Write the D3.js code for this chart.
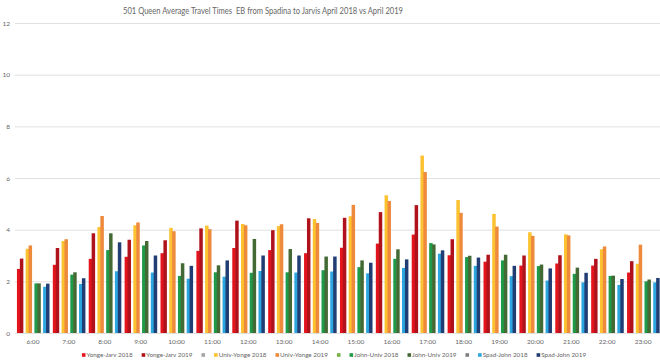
<!DOCTYPE html>
<html>
<head>
<meta charset="utf-8">
<script src="https://cdn.jsdelivr.net/npm/d3@7"></script>
<style>
  html, body { margin: 0; padding: 0; background: #fff; }
  svg { display: block; font-family: Lato, "Open Sans", sans-serif; }
</style>
</head>
<body>
<div id="chart"></div>
<script>
// Data (minutes)
const times = ['6:00', '7:00', '8:00', '9:00', '10:00', '11:00', '12:00', '13:00', '14:00',
    '15:00', '16:00', '17:00', '18:00', '19:00', '20:00', '21:00', '22:00', '23:00'];

const yongeJarv2018 = [2.48, 2.64, 2.87, 2.95, 3.09, 3.18, 3.29, 3.21, 3.09, 3.30, 3.46, 3.81, 3.01, 2.76, 2.61, 2.69, 2.61, 2.34];
const yongeJarv2019 = [2.88, 3.29, 3.86, 3.61, 3.59, 4.05, 4.35, 3.98, 4.44, 4.46, 4.68, 4.95, 3.63, 3.03, 3.00, 3.01, 2.87, 2.78];
const univYonge2018 = [3.26, 3.56, 4.10, 4.17, 4.07, 4.16, 4.22, 4.14, 4.41, 4.52, 5.33, 6.87, 5.15, 4.61, 3.90, 3.82, 3.24, 2.68];
const univYonge2019 = [3.39, 3.63, 4.53, 4.28, 3.94, 4.02, 4.17, 4.21, 4.26, 4.96, 5.11, 6.23, 4.65, 4.12, 3.76, 3.78, 3.35, 3.42];
const johnUniv2018 = [1.92, 2.26, 3.21, 3.39, 2.21, 2.35, 2.33, 2.35, 2.43, 2.55, 2.87, 3.48, 2.94, 2.81, 2.59, 2.29, 2.21, 2.00];
const johnUniv2019 = [1.92, 2.35, 3.86, 3.56, 2.70, 2.62, 3.64, 3.25, 2.96, 2.81, 3.24, 3.43, 2.99, 3.03, 2.65, 2.53, 2.22, 2.07];
const spadJohn2018 = [1.79, 1.90, 2.39, 2.34, 2.10, 2.18, 2.40, 2.34, 2.38, 2.31, 2.52, 3.07, 2.60, 2.20, 2.03, 1.96, 1.86, 1.96];
const spadJohn2019 = [1.91, 2.12, 3.51, 3.00, 2.60, 2.81, 3.00, 3.00, 2.96, 2.72, 2.85, 3.20, 2.92, 2.60, 2.50, 2.33, 2.09, 2.13];

const yTicks = [0, 2, 4, 6, 8, 10, 12];

// empty series keep the gaps between pairs (and show up in the legend)
const series = [
    { key: 'yj18', name: 'Yonge-Jarv 2018', color: '#e3141c', values: yongeJarv2018 },
    { key: 'yj19', name: 'Yonge-Jarv 2019', color: '#b0121b', values: yongeJarv2019 },
    { key: 'gap1', name: '', color: '#a5a5a5', values: null },
    { key: 'uy18', name: 'Univ-Yonge 2018', color: '#fcc230', values: univYonge2018 },
    { key: 'uy19', name: 'Univ-Yonge 2019', color: '#ee8a3c', values: univYonge2019 },
    { key: 'gap2', name: '', color: '#78b04a', values: null },
    { key: 'ju18', name: 'John-Univ 2018', color: '#1f9a48', values: johnUniv2018 },
    { key: 'ju19', name: 'John-Univ 2019', color: '#436a34', values: johnUniv2019 },
    { key: 'gap3', name: '', color: '#7f7f7f', values: null },
    { key: 'sj18', name: 'Spad-John 2018', color: '#2ba6df', values: spadJohn2018 },
    { key: 'sj19', name: 'Spad-John 2019', color: '#203d74', values: spadJohn2019 }
];

const width = 660, height = 364;
const margin = { top: 23, right: 0, bottom: 31, left: 15 };

const svg = d3.select('#chart')
    .append('svg')
    .attr('width', width)
    .attr('height', height);

// Title
svg.append('text')
    .attr('x', 263)
    .attr('y', 14)
    .attr('text-anchor', 'middle')
    .attr('textLength', 280)
    .attr('lengthAdjust', 'spacingAndGlyphs')
    .style('white-space', 'pre')
    .style('font-size', '9.5px')
    .style('fill', '#666')
    .text('501 Queen Average Travel Times  EB from Spadina to Jarvis April 2018 vs April 2019');

// Scales
const x = d3.scaleBand()
    .domain(times)
    .range([margin.left, 661])
    .padding(0);

const x1 = d3.scaleBand()
    .domain(series.map(s => s.key))
    .range([x.bandwidth() / 2 - 16, x.bandwidth() / 2 + 16])
    .padding(0);

const barW = x1.step() * 1.2;

const y = d3.scaleLinear()
    .domain([0, 12])
    .range([height - margin.bottom, margin.top]);

// Grid + y labels
const yAxis = g => g
    .attr('transform', `translate(${margin.left},0)`)
    .call(d3.axisLeft(y).tickValues(yTicks).tickSize(0).tickPadding(5))
    .call(g => g.select('.domain').remove())
    .call(g => g.selectAll('text')
        .style('fill', '#666')
        .style('font-size', '6.5px')
        .style('font-family', 'Lato, sans-serif'))
    .call(g => g.selectAll('.tick line')
        .attr('x2', 660 - margin.left)
        .attr('stroke', '#d9d9d9')
        .attr('stroke-width', 0.8));

svg.append('g').call(yAxis);

// Bars
const groups = svg.append('g')
    .selectAll('g')
    .data(times)
    .join('g')
    .attr('transform', d => `translate(${x(d)},0)`);

groups.selectAll('rect')
    .data((t, i) => series.filter(s => s.values).map(s => ({ key: s.key, color: s.color, v: s.values[i] })))
    .join('rect')
    .attr('x', d => x1(d.key))
    .attr('y', d => y(d.v))
    .attr('width', barW)
    .attr('height', d => y(0) - y(d.v))
    .attr('fill', d => d.color);

// x labels
const xAxis = g => g
    .attr('transform', `translate(0,${y(0)})`)
    .call(d3.axisBottom(x).tickSize(0).tickPadding(6))
    .call(g => g.select('.domain').remove())
    .call(g => g.selectAll('text')
        .style('fill', '#666')
        .style('font-size', '6.5px')
        .style('font-family', 'Lato, sans-serif'));

svg.append('g').call(xAxis);

// Legend
const legend = svg.append('g');
const sq = 3.6;
const gap = 9;
let lx = 0;
series.forEach(s => {
    const item = legend.append('g').attr('transform', `translate(${lx},0)`);
    item.append('rect')
        .attr('x', 0)
        .attr('y', -sq / 2)
        .attr('width', sq)
        .attr('height', sq)
        .attr('fill', s.color);
    let w = sq;
    if (s.name) {
        const t = item.append('text')
            .attr('x', sq + 1)
            .attr('y', 2.3)
            .style('font-size', '6.3px')
            .style('fill', '#666')
            .text(s.name);
        w += 1 + t.node().getComputedTextLength();
    }
    lx += w + gap;
});
lx -= gap;
legend.attr('transform', `translate(${334 - lx / 2},${355})`);
</script>
</body>
</html>
